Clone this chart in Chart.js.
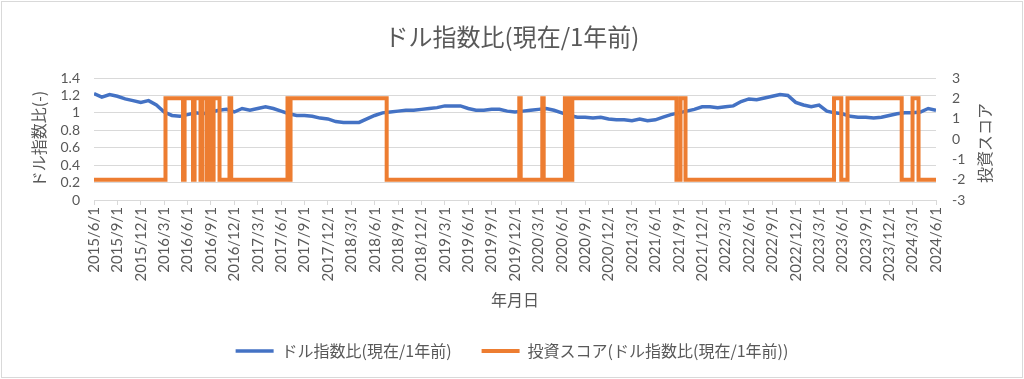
<!DOCTYPE html>
<html lang="ja">
<head>
<meta charset="utf-8">
<script src="https://cdn.jsdelivr.net/npm/chart.js@4.4.1/dist/chart.umd.min.js"></script>
<style>
  html, body { margin: 0; padding: 0; background: #fff; }
  #wrap { width: 1024px; height: 379px; position: relative; }
</style>
</head>
<body>
<div id="wrap"><canvas id="chart"></canvas></div>
<script>
// ドル指数比(現在/1年前) 月次 2015/6 〜 2024/6
const ratioValues = [
  1.22, 1.18, 1.21, 1.19, 1.16, 1.14, 1.12, 1.14, 1.09, 1.01, 0.97, 0.96, 0.98,
  1.00, 0.99, 1.01, 1.03, 1.04, 1.01, 1.05, 1.03, 1.05, 1.07, 1.05, 1.02,
  0.99, 0.97, 0.97, 0.96, 0.94, 0.93, 0.90, 0.89, 0.89, 0.89, 0.93, 0.97,
  1.00, 1.01, 1.02, 1.03, 1.03, 1.04, 1.05, 1.06, 1.08, 1.08, 1.08, 1.05,
  1.03, 1.03, 1.04, 1.04, 1.02, 1.01, 1.02, 1.03, 1.04, 1.05, 1.03, 1.00,
  0.97, 0.95, 0.95, 0.94, 0.95, 0.93, 0.92, 0.92, 0.91, 0.93, 0.91, 0.92,
  0.95, 0.98, 1.00, 1.02, 1.04, 1.07, 1.07, 1.06, 1.07, 1.08, 1.13, 1.16,
  1.15, 1.17, 1.19, 1.21, 1.20, 1.12, 1.09, 1.07, 1.09, 1.02, 1.00, 0.99,
  0.96, 0.95, 0.95, 0.94, 0.95, 0.97, 0.99, 1.00, 1.00, 1.01, 1.05, 1.03
];

// 投資スコアが切り替わる時点 (2015/6/1 からの月数) と値
const scoreMonths = [
  0, 9.17, 11.42, 11.62, 12.70, 12.90, 13.66, 13.86, 14.43, 14.63, 15.14, 15.34,
  16.10, 17.38, 17.60, 24.82, 25.01, 25.21, 37.54, 54.55, 54.73, 57.50, 57.68,
  60.40, 60.90, 61.35, 74.71, 75.23, 75.87, 94.92, 95.85, 96.65, 103.60, 104.99,
  105.76, 108
];
const scoreValues = [
  -2, 2, -2, 2, -2, 2, -2, 2, -2, 2, -2, 2,
  -2, 2, -2, 2, -2, 2, -2, 2, -2, 2, -2,
  2, -2, 2, -2, 2, -2, 2, -2, 2, -2, 2,
  -2, -2
];

const tickLabels = [
  "2015/6/1", "2015/9/1", "2015/12/1",
  "2016/3/1", "2016/6/1", "2016/9/1", "2016/12/1",
  "2017/3/1", "2017/6/1", "2017/9/1", "2017/12/1",
  "2018/3/1", "2018/6/1", "2018/9/1", "2018/12/1",
  "2019/3/1", "2019/6/1", "2019/9/1", "2019/12/1",
  "2020/3/1", "2020/6/1", "2020/9/1", "2020/12/1",
  "2021/3/1", "2021/6/1", "2021/9/1", "2021/12/1",
  "2022/3/1", "2022/6/1", "2022/9/1", "2022/12/1",
  "2023/3/1", "2023/6/1", "2023/9/1", "2023/12/1",
  "2024/3/1", "2024/6/1"
];

const textColor = "#595959";
const gridColor = "#d9d9d9";
const jp = "'Noto Sans CJK JP', sans-serif";
const num = "Lato, 'Noto Sans CJK JP', sans-serif";

// 枠線と白背景
const frame = {
  id: "frame",
  beforeDraw(chart) {
    const ctx = chart.ctx;
    ctx.save();
    ctx.fillStyle = "#fff";
    ctx.fillRect(0, 0, chart.width, chart.height);
    ctx.strokeStyle = gridColor;
    ctx.lineWidth = 1;
    ctx.strokeRect(1.5, 1.5, chart.width - 3, chart.height - 3);
    ctx.restore();
  }
};

// 右軸のタイトル (下から上に読む向き)
const rightTitle = {
  id: "rightTitle",
  afterDraw(chart) {
    const s = chart.scales.y2;
    const ctx = chart.ctx;
    ctx.save();
    ctx.translate(s.right - 39, (s.top + s.bottom) / 2 + 4);
    ctx.rotate(-Math.PI / 2);
    ctx.font = "16px " + jp;
    ctx.fillStyle = textColor;
    ctx.textAlign = "center";
    ctx.textBaseline = "middle";
    ctx.fillText("投資スコア", 0, 0);
    ctx.restore();
  }
};

const ctx = document.getElementById("chart").getContext("2d");
new Chart(ctx, {
  type: "line",
  data: {
    datasets: [
      {
        label: "ドル指数比(現在/1年前)",
        data: ratioValues.map((v, i) => ({ x: i, y: v })),
        borderColor: "#4472C4",
        backgroundColor: "#4472C4",
        borderWidth: 3.5,
        pointRadius: 0,
        tension: 0,
        yAxisID: "y",
        order: 1
      },
      {
        label: "投資スコア(ドル指数比(現在/1年前))",
        data: scoreMonths.map((m, i) => ({ x: m, y: scoreValues[i] })),
        borderColor: "#ED7D31",
        backgroundColor: "#ED7D31",
        borderWidth: 4,
        pointRadius: 0,
        stepped: "before",
        yAxisID: "y2",
        order: 0
      }
    ]
  },
  options: {
    responsive: true,
    maintainAspectRatio: false,
    animation: false,
    layout: { padding: { left: 0, right: 0, top: 0, bottom: 10 } },
    plugins: {
      title: {
        display: true,
        text: "ドル指数比(現在/1年前)",
        color: textColor,
        font: { family: jp, size: 24, weight: "normal" },
        padding: { top: 22.6, bottom: 26.6 }
      },
      legend: {
        position: "bottom",
        labels: {
          color: textColor,
          font: { family: jp, size: 16 },
          usePointStyle: true,
          pointStyle: "line",
          pointStyleWidth: 38,
          padding: 30,
          sort: (a, b) => a.datasetIndex - b.datasetIndex
        }
      },
      tooltip: { enabled: false }
    },
    scales: {
      x: {
        type: "linear",
        min: 0,
        max: 108,
        afterFit: s => { s.height = 113; },
        afterBuildTicks: s => {
          s.ticks = tickLabels.map((t, i) => ({ value: i * 3 }));
        },
        ticks: {
          autoSkip: false,
          maxRotation: 90,
          minRotation: 90,
          padding: 2,
          color: textColor,
          font: { family: num, size: 15 },
          callback: (v) => tickLabels[Math.round(v / 3)]
        },
        grid: {
          drawOnChartArea: false,
          drawTicks: true,
          tickLength: 5,
          color: gridColor
        },
        border: { display: true, color: gridColor },
        title: {
          display: true,
          text: "年月日",
          color: textColor,
          font: { family: jp, size: 16 },
          padding: { top: 0, bottom: 3.4 }
        }
      },
      y: {
        position: "left",
        min: 0,
        max: 1.4,
        afterFit: s => { s.width = 94; },
        ticks: {
          stepSize: 0.2,
          autoSkip: false,
          padding: 14,
          color: textColor,
          font: { family: num, size: 14 },
          callback: v => String(+v.toFixed(1))
        },
        grid: { color: gridColor, drawTicks: false },
        border: { display: false },
        title: {
          display: true,
          text: "ドル指数比(-)",
          color: textColor,
          font: { family: jp, size: 16 },
          padding: { top: 29, bottom: 0 }
        }
      },
      y2: {
        position: "right",
        min: -3,
        max: 3,
        afterFit: s => { s.width = 88; },
        ticks: {
          stepSize: 1,
          autoSkip: false,
          padding: 16,
          color: textColor,
          font: { family: num, size: 14 }
        },
        grid: { drawOnChartArea: false, drawTicks: false },
        border: { display: false }
      }
    }
  },
  plugins: [frame, rightTitle]
});
</script>
</body>
</html>
